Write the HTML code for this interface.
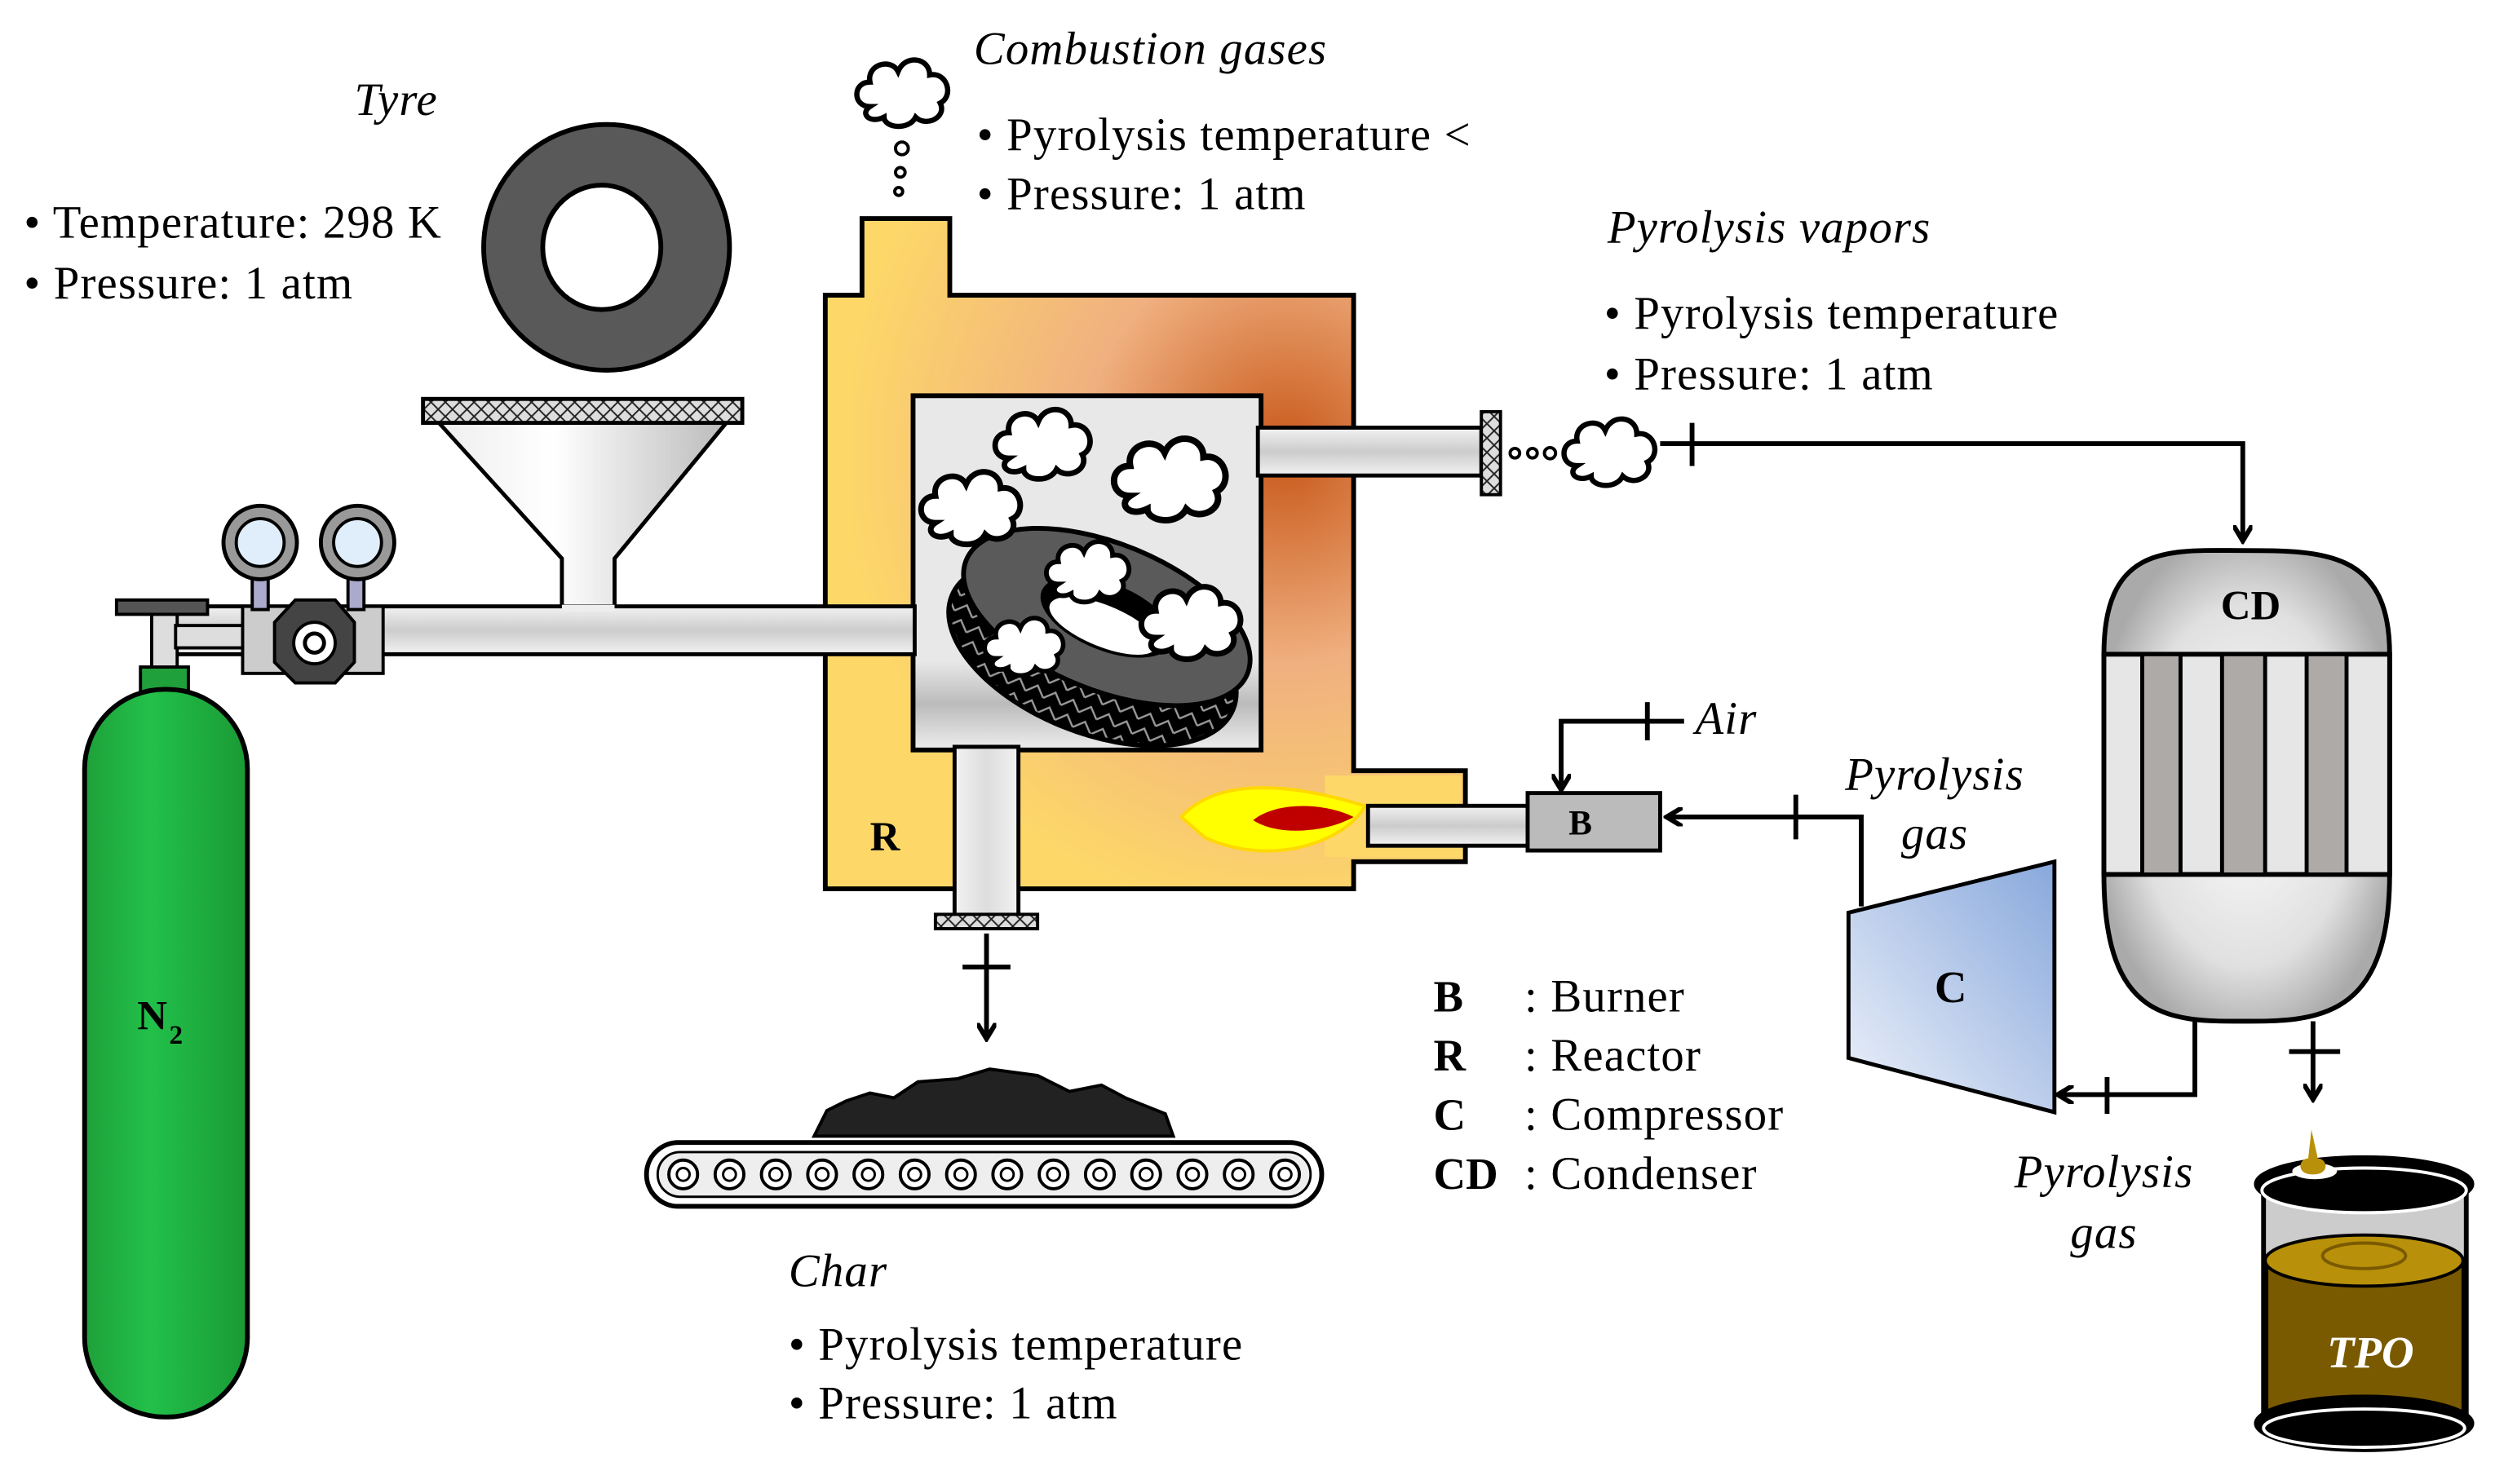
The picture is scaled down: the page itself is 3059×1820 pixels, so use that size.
<!DOCTYPE html>
<html><head><meta charset="utf-8"><style>
html,body{margin:0;padding:0;background:#fff;}
svg{display:block;}
text{font-family:"Liberation Serif",serif;fill:#000;}
.it{font-style:italic;}
.t{font-size:29px;letter-spacing:0.6px;}
</style></head><body>
<svg width="3059" height="1820" viewBox="0 0 1563 930" preserveAspectRatio="none" xmlns="http://www.w3.org/2000/svg">
<defs>
<radialGradient id="furn" cx="0.72" cy="0.35" r="0.7">
<stop offset="0" stop-color="#c8581a"/><stop offset="0.45" stop-color="#f0b080"/><stop offset="1" stop-color="#fdd868"/>
</radialGradient>
<linearGradient id="pipe" x1="0" y1="0" x2="1" y2="0">
<stop offset="0" stop-color="#f2f2f2"/><stop offset="0.5" stop-color="#ddd"/><stop offset="1" stop-color="#f2f2f2"/>
</linearGradient>
<linearGradient id="pipeV" x1="0" y1="0" x2="0" y2="1">
<stop offset="0" stop-color="#f2f2f2"/><stop offset="0.5" stop-color="#ccc"/><stop offset="1" stop-color="#f2f2f2"/>
</linearGradient>
<linearGradient id="inner" x1="0" y1="0" x2="0" y2="1">
<stop offset="0" stop-color="#e8e8e8"/><stop offset="0.75" stop-color="#e8e8e8"/><stop offset="0.87" stop-color="#bbb"/><stop offset="1" stop-color="#eee"/>
</linearGradient>
<linearGradient id="comp" x1="1" y1="0" x2="0" y2="1">
<stop offset="0" stop-color="#88a8dc"/><stop offset="1" stop-color="#eef2fa"/>
</linearGradient>
<radialGradient id="cdg" cx="0.5" cy="0.5" r="0.55">
<stop offset="0" stop-color="#fff"/><stop offset="0.7" stop-color="#e0e0e0"/><stop offset="1" stop-color="#aaa"/>
</radialGradient>
<linearGradient id="cyl" x1="0" y1="0" x2="1" y2="0">
<stop offset="0" stop-color="#1fa03a"/><stop offset="0.4" stop-color="#22c04a"/><stop offset="1" stop-color="#1a9a35"/>
</linearGradient>
<linearGradient id="funnel" x1="0" y1="0" x2="1" y2="0">
<stop offset="0" stop-color="#eee"/><stop offset="0.4" stop-color="#fff"/><stop offset="1" stop-color="#bbb"/>
</linearGradient>
<pattern id="hatch" width="9" height="9" patternUnits="userSpaceOnUse">
<rect width="9" height="9" fill="#ddd"/><path d="M0 0L9 9M9 0L0 9" stroke="#222" stroke-width="1"/>
</pattern>
<pattern id="tread" width="12" height="10" patternUnits="userSpaceOnUse">
<rect width="12" height="10" fill="#000"/><path d="M0 8L6 2L12 8" fill="none" stroke="#999" stroke-width="1.2"/>
</pattern>
<marker id="ar" markerWidth="12" markerHeight="12" refX="9" refY="6" orient="auto" markerUnits="userSpaceOnUse">
<path d="M0 0L10 6L0 12" fill="none" stroke="#000" stroke-width="3"/>
</marker>
<g id="cloud"><path d="M-20 8 C-30 8,-30 -6,-20 -6 C-22 -16,-8 -20,-4 -12 C0 -22,14 -20,14 -10 C24 -12,28 2,20 6 C24 14,12 20,6 14 C2 22,-12 20,-12 14 C-20 18,-26 12,-20 8Z" fill="#fff" stroke="#000" stroke-width="3"/></g>
</defs>

<text x="222" y="72" class="t it">Tyre</text>
<text x="15" y="149" class="t">• Temperature: 298 K</text>
<text x="15" y="187" class="t">• Pressure: 1 atm</text>

<ellipse cx="380" cy="155" rx="77" ry="77" fill="#595959" stroke="#000" stroke-width="3"/>
<ellipse cx="377" cy="155" rx="37" ry="39" fill="#fff" stroke="#000" stroke-width="3"/>

<path d="M275 265 L455 265 L385 350 L385 382 L352 382 L352 350 Z" fill="url(#funnel)" stroke="#000" stroke-width="2.5"/>
<rect x="265" y="250" width="200" height="15" fill="url(#hatch)" stroke="#000" stroke-width="2.5"/>

<path d="M540 137 L595 137 L595 185 L848 185 L848 483 L918 483 L918 540 L848 540 L848 557 L517 557 L517 185 L540 185 Z" fill="url(#furn)" stroke="#000" stroke-width="3"/>
<rect x="520" y="188" width="14" height="366" fill="#fdd868"/>
<rect x="830" y="486" width="85" height="51" fill="#fdd868"/>
<rect x="572" y="248" width="218" height="222" fill="url(#inner)" stroke="#000" stroke-width="3"/>

<rect x="110" y="380" width="463" height="30" fill="url(#pipeV)" stroke="#000" stroke-width="2.5"/>
<rect x="352" y="379" width="33" height="4" fill="#eee"/>
<rect x="788" y="268" width="140" height="30" fill="url(#pipeV)" stroke="#000" stroke-width="2.5"/>
<rect x="928" y="258" width="12" height="52" fill="url(#hatch)" stroke="#000" stroke-width="2"/>
<rect x="598" y="468" width="40" height="106" fill="url(#pipe)" stroke="#000" stroke-width="2.5"/>
<rect x="586" y="573" width="64" height="9" fill="url(#hatch)" stroke="#000" stroke-width="2"/>

<g transform="rotate(22 690 395)">
<ellipse cx="690" cy="410" rx="95" ry="50" fill="url(#tread)" stroke="#000" stroke-width="3"/>
<ellipse cx="690" cy="386" rx="95" ry="46" fill="#5a5a5a" stroke="#000" stroke-width="3"/>
<ellipse cx="690" cy="386" rx="44" ry="21" fill="#000"/>
<ellipse cx="690" cy="392" rx="36" ry="13" fill="#fff"/>
</g>
<use href="#cloud" transform="translate(610 318) scale(1.2)"/>
<use href="#cloud" transform="translate(655 278) scale(1.15)"/>
<use href="#cloud" transform="translate(735 300) scale(1.35)"/>
<use href="#cloud" transform="translate(683 358) scale(1.0)"/>
<use href="#cloud" transform="translate(748 390) scale(1.2)"/>
<use href="#cloud" transform="translate(643 405) scale(0.95)"/>

<path d="M740 512 C760 490,800 488,855 505 C845 525,800 545,755 525 Z" fill="#ffff00" stroke="#ffd800" stroke-width="2"/>
<path d="M785 514 C800 502,830 503,848 512 C830 522,800 524,785 514Z" fill="#c00000"/>
<rect x="857" y="505" width="100" height="25" fill="url(#pipeV)" stroke="#000" stroke-width="2.5"/>
<rect x="957" y="497" width="83" height="36" fill="#bbb" stroke="#000" stroke-width="2.5"/>
<text x="990" y="523" font-size="22" font-weight="bold" text-anchor="middle">B</text>
<text x="545" y="533" font-size="26" font-weight="bold">R</text>

<path d="M1055 452 L978 452 L978 494" fill="none" stroke="#000" stroke-width="3" marker-end="url(#ar)"/>
<line x1="1032" y1="440" x2="1032" y2="464" stroke="#000" stroke-width="3"/>
<text x="1062" y="460" class="t it">Air</text>

<use href="#cloud" transform="translate(567 58) scale(1.1)"/>
<circle cx="565" cy="93" r="4" fill="#fff" stroke="#000" stroke-width="2"/>
<circle cx="564" cy="108" r="3" fill="#fff" stroke="#000" stroke-width="2"/>
<circle cx="563" cy="120" r="2.5" fill="#fff" stroke="#000" stroke-width="2"/>
<text x="610" y="40" class="t it">Combustion gases</text>
<text x="612" y="94" class="t">• Pyrolysis temperature &lt;</text>
<text x="612" y="131" class="t">• Pressure: 1 atm</text>

<text x="1007" y="152" class="t it">Pyrolysis vapors</text>
<text x="1005" y="206" class="t">• Pyrolysis temperature</text>
<text x="1005" y="244" class="t">• Pressure: 1 atm</text>
<circle cx="949" cy="284" r="3" fill="#fff" stroke="#000" stroke-width="2"/>
<circle cx="960" cy="284" r="3" fill="#fff" stroke="#000" stroke-width="2"/>
<circle cx="971" cy="284" r="3.5" fill="#fff" stroke="#000" stroke-width="2"/>
<use href="#cloud" transform="translate(1010 283) scale(1.1)"/>
<path d="M1040 278 L1405 278 L1405 338" fill="none" stroke="#000" stroke-width="3" marker-end="url(#ar)"/>
<line x1="1060" y1="265" x2="1060" y2="292" stroke="#000" stroke-width="3"/>

<path d="M1318 410 C1318 340,1360 345,1405 345 C1455 345,1497 345,1497 410 L1497 548 C1497 640,1450 640,1405 640 C1360 640,1318 640,1318 548 Z" fill="url(#cdg)" stroke="#000" stroke-width="3"/>
<rect x="1318" y="410" width="179" height="138" fill="#e6e6e6" stroke="#000" stroke-width="3"/>
<rect x="1342" y="410" width="24" height="138" fill="#aeaaa8" stroke="#000" stroke-width="2.5"/>
<rect x="1392" y="410" width="27" height="138" fill="#aeaaa8" stroke="#000" stroke-width="2.5"/>
<rect x="1445" y="410" width="25" height="138" fill="#aeaaa8" stroke="#000" stroke-width="2.5"/>
<text x="1410" y="388" font-size="26" font-weight="bold" text-anchor="middle">CD</text>

<path d="M1158 572 L1287 540 L1287 697 L1158 663 Z" fill="url(#comp)" stroke="#000" stroke-width="2.5"/>
<text x="1222" y="628" font-size="28" font-weight="bold" text-anchor="middle">C</text>
<path d="M1375 638 L1375 686 L1290 686" fill="none" stroke="#000" stroke-width="3" marker-end="url(#ar)"/>
<line x1="1320" y1="675" x2="1320" y2="698" stroke="#000" stroke-width="3"/>
<path d="M1166 568 L1166 512 L1045 512" fill="none" stroke="#000" stroke-width="3" marker-end="url(#ar)"/>
<line x1="1125" y1="498" x2="1125" y2="526" stroke="#000" stroke-width="3"/>
<text x="1212" y="495" class="t it" text-anchor="middle">Pyrolysis</text>
<text x="1212" y="532" class="t it" text-anchor="middle">gas</text>
<text x="1318" y="744" class="t it" text-anchor="middle">Pyrolysis</text>
<text x="1318" y="782" class="t it" text-anchor="middle">gas</text>

<line x1="1449" y1="640" x2="1449" y2="688" stroke="#000" stroke-width="3" marker-end="url(#ar)"/>
<line x1="1434" y1="659" x2="1466" y2="659" stroke="#000" stroke-width="3"/>
<rect x="1418" y="742" width="127" height="150" fill="#ccc" stroke="#000" stroke-width="3"/>
<path d="M1420 790 L1543 790 L1543 890 L1420 890 Z" fill="#7a5a00" stroke="#000" stroke-width="2"/>
<ellipse cx="1481" cy="790" rx="62" ry="16" fill="#b8900a" stroke="#000" stroke-width="2"/>
<ellipse cx="1481" cy="787" rx="26" ry="8" fill="none" stroke="#7a5a00" stroke-width="2"/>
<ellipse cx="1481" cy="742" rx="68" ry="17" fill="#000" stroke="#000" stroke-width="2"/>
<ellipse cx="1481" cy="746" rx="64" ry="14" fill="none" stroke="#fff" stroke-width="2"/>
<ellipse cx="1450" cy="734" rx="14" ry="5" fill="#fff"/>
<path d="M1448 708 L1452 726 C1458 726,1460 736,1449 736 C1438 736,1440 726,1446 726 Z" fill="#b8900a"/>
<ellipse cx="1481" cy="892" rx="68" ry="17" fill="#000" stroke="#000" stroke-width="2"/>
<ellipse cx="1481" cy="895" rx="63" ry="12" fill="none" stroke="#fff" stroke-width="2"/>
<text x="1485" y="857" font-size="28" font-weight="bold" font-style="italic" text-anchor="middle" style="fill:#fff">TPO</text>

<text x="898" y="634" font-size="28" font-weight="bold">B</text><text x="955" y="634" class="t">: Burner</text>
<text x="898" y="671" font-size="28" font-weight="bold">R</text><text x="955" y="671" class="t">: Reactor</text>
<text x="898" y="708" font-size="28" font-weight="bold">C</text><text x="955" y="708" class="t">: Compressor</text>
<text x="898" y="745" font-size="28" font-weight="bold">CD</text><text x="955" y="745" class="t">: Condenser</text>

<line x1="618" y1="585" x2="618" y2="650" stroke="#000" stroke-width="3" marker-end="url(#ar)"/>
<line x1="603" y1="606" x2="633" y2="606" stroke="#000" stroke-width="3"/>
<path d="M510 712 L518 696 L530 690 L545 685 L560 688 L575 678 L600 676 L620 670 L650 674 L670 684 L690 680 L705 688 L730 698 L735 712 Z" fill="#222" stroke="#000" stroke-width="2"/>
<rect x="405" y="716" width="423" height="40" rx="20" fill="#fff" stroke="#000" stroke-width="3"/>
<rect x="412" y="722" width="409" height="28" rx="14" fill="#eee" stroke="#000" stroke-width="1.5"/>
<g fill="#fff" stroke="#000" stroke-width="2">
<circle cx="428" cy="736" r="9"/><circle cx="457" cy="736" r="9"/><circle cx="486" cy="736" r="9"/><circle cx="515" cy="736" r="9"/><circle cx="544" cy="736" r="9"/><circle cx="573" cy="736" r="9"/><circle cx="602" cy="736" r="9"/><circle cx="631" cy="736" r="9"/><circle cx="660" cy="736" r="9"/><circle cx="689" cy="736" r="9"/><circle cx="718" cy="736" r="9"/><circle cx="747" cy="736" r="9"/><circle cx="776" cy="736" r="9"/><circle cx="805" cy="736" r="9"/>
</g>
<g fill="none" stroke="#000" stroke-width="1.5">
<circle cx="428" cy="736" r="4"/><circle cx="457" cy="736" r="4"/><circle cx="486" cy="736" r="4"/><circle cx="515" cy="736" r="4"/><circle cx="544" cy="736" r="4"/><circle cx="573" cy="736" r="4"/><circle cx="602" cy="736" r="4"/><circle cx="631" cy="736" r="4"/><circle cx="660" cy="736" r="4"/><circle cx="689" cy="736" r="4"/><circle cx="718" cy="736" r="4"/><circle cx="747" cy="736" r="4"/><circle cx="776" cy="736" r="4"/><circle cx="805" cy="736" r="4"/>
</g>
<text x="494" y="806" class="t it">Char</text>
<text x="494" y="852" class="t">• Pyrolysis temperature</text>
<text x="494" y="889" class="t">• Pressure: 1 atm</text>

<rect x="73" y="376" width="57" height="9" fill="#555" stroke="#000" stroke-width="2"/>
<rect x="95" y="385" width="16" height="35" fill="#ddd" stroke="#000" stroke-width="2"/>
<rect x="88" y="418" width="30" height="20" fill="#1fa03a" stroke="#000" stroke-width="2"/>
<rect x="53" y="432" width="102" height="456" rx="50" fill="url(#cyl)" stroke="#000" stroke-width="3"/>
<text x="86" y="645" font-size="26" font-weight="bold">N</text><text x="106" y="654" font-size="17" font-weight="bold">2</text>
<rect x="110" y="392" width="45" height="14" fill="#ddd" stroke="#000" stroke-width="2"/>
<rect x="152" y="380" width="88" height="42" fill="#ccc" stroke="#000" stroke-width="2"/>
<rect x="158" y="360" width="10" height="22" fill="#aac" stroke="#000" stroke-width="2"/>
<rect x="218" y="360" width="10" height="22" fill="#aac" stroke="#000" stroke-width="2"/>
<circle cx="163" cy="340" r="23" fill="#999" stroke="#000" stroke-width="2.5"/>
<circle cx="163" cy="340" r="15" fill="#dfeefa" stroke="#000" stroke-width="2"/>
<circle cx="224" cy="340" r="23" fill="#999" stroke="#000" stroke-width="2.5"/>
<circle cx="224" cy="340" r="15" fill="#dfeefa" stroke="#000" stroke-width="2"/>
<polygon points="185,376 210,376 222,390 222,415 210,428 185,428 172,415 172,390" fill="#444" stroke="#000" stroke-width="2"/>
<circle cx="197" cy="403" r="13" fill="#fff" stroke="#000" stroke-width="2"/>
<circle cx="197" cy="403" r="6" fill="#fff" stroke="#000" stroke-width="2.5"/>
</svg>
</body></html>
